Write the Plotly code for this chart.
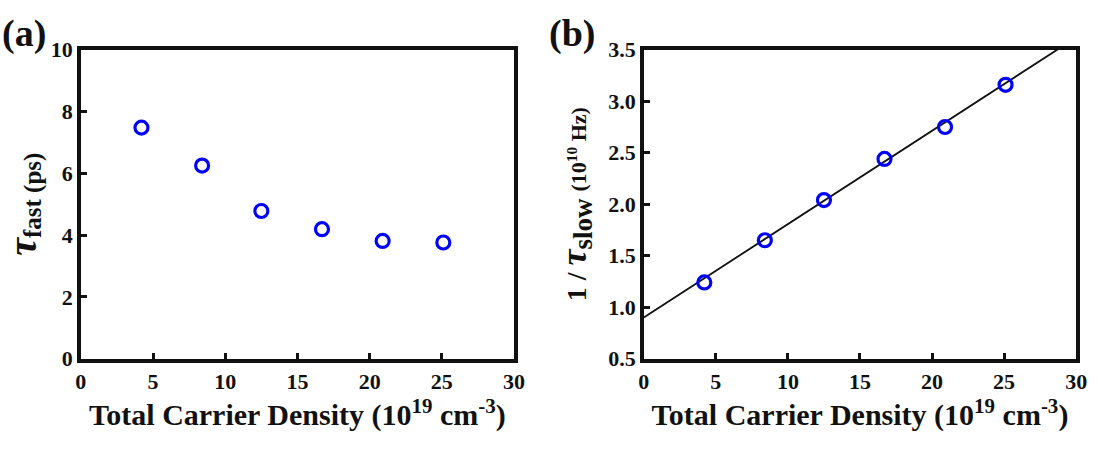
import plotly.graph_objects as go

# Data
density = [4.2, 8.4, 12.5, 16.7, 20.9, 25.1]          # 10^19 cm^-3
tau_fast = [7.48, 6.25, 4.78, 4.19, 3.81, 3.76]        # ps
inv_tau_slow = [1.24, 1.65, 2.04, 2.44, 2.75, 3.16]    # 10^10 Hz
fit_x = [0, 30]
fit_y = [0.90, 3.62]

x_ticks = [0, 5, 10, 15, 20, 25, 30]
x_labels = ["0", "5", "10", "15", "20", "25", "30"]
ya_ticks = [0, 2, 4, 6, 8, 10]
ya_labels = ["0", "2", "4", "6", "8", "10"]
yb_ticks = [0.5, 1.0, 1.5, 2.0, 2.5, 3.0, 3.5]
yb_labels = ["0.5", "1.0", "1.5", "2.0", "2.5", "3.0", "3.5"]

FONT = "Liberation Serif"
BLUE = "#0000FF"
INK = "#111111"

fig = go.Figure()

marker = dict(symbol="circle-open", size=13, color=BLUE, line=dict(width=3.2, color=BLUE))

fig.add_trace(go.Scatter(x=density, y=tau_fast, mode="markers", marker=marker,
                         xaxis="x", yaxis="y", showlegend=False))
fig.add_trace(go.Scatter(x=fit_x, y=fit_y, mode="lines", line=dict(color=INK, width=1.8),
                         xaxis="x2", yaxis="y2", showlegend=False))
fig.add_trace(go.Scatter(x=density, y=inv_tau_slow, mode="markers", marker=marker,
                         xaxis="x2", yaxis="y2", showlegend=False))

xtitle = "<b>Total Carrier Density (10<sup>19</sup> cm<sup>-3</sup>)</b>"


def bold(labels):
    return ["<b>%s</b>" % s for s in labels]


axis_common = dict(showline=True, linewidth=3.5, linecolor=INK, mirror=True,
                   ticks="inside", ticklen=6, tickwidth=3, tickcolor=INK,
                   showgrid=False, zeroline=False,
                   tickfont=dict(family=FONT, size=22, color=INK))

xtitle_font = dict(family=FONT, size=30, color=INK)

fig.update_layout(
    width=1098, height=450,
    margin=dict(l=0, r=0, t=0, b=0),
    plot_bgcolor="white", paper_bgcolor="white",
    font=dict(family=FONT, color=INK, size=22),
    xaxis=dict(domain=[0.0692, 0.4700], range=[0, 30], tickvals=x_ticks,
               ticktext=bold(x_labels), anchor="y",
               title=dict(text=xtitle, font=xtitle_font, standoff=12),
               **axis_common),
    yaxis=dict(domain=[0.1844, 0.9111], range=[0, 10], tickvals=ya_ticks,
               ticktext=bold(ya_labels), anchor="x",
               title=dict(text="<b><i><span style='font-size:40px'>τ</span></i>"
                               "<sub><span style='font-size:25px'>fast (ps)</span></sub></b>",
                          font=dict(family=FONT, size=24, color=INK),
                          standoff=18),
               **axis_common),
    xaxis2=dict(domain=[0.5900, 0.9900], range=[0, 30], tickvals=x_ticks,
                ticktext=bold(x_labels), anchor="y2",
                title=dict(text=xtitle, font=xtitle_font, standoff=12),
                **axis_common),
    yaxis2=dict(domain=[0.1844, 0.9111], range=[0.5, 3.5], tickvals=yb_ticks,
                ticktext=bold(yb_labels), anchor="x2",
                title=dict(text="<b>1 / <i><span style='font-size:36px'>τ</span></i>"
                                "<sub><span style='font-size:27px'>slow</span></sub>"
                                " <span style='font-size:22px'>"
                                "(10<sup>10</sup> Hz)</span></b>",
                           font=dict(family=FONT, size=28, color=INK),
                           standoff=14),
                **axis_common),
    annotations=[
        dict(text="<b>(a)</b>", x=-0.006, y=1 - 23 / 450, xref="paper", yref="paper",
             xanchor="left", yanchor="middle", showarrow=False,
             font=dict(family=FONT, size=38, color=INK)),
        dict(text="<b>(b)</b>", x=550 / 1098, y=1 - 23 / 450, xref="paper", yref="paper",
             xanchor="left", yanchor="middle", showarrow=False,
             font=dict(family=FONT, size=38, color=INK)),
    ],
)

fig.write_html("out.html")
